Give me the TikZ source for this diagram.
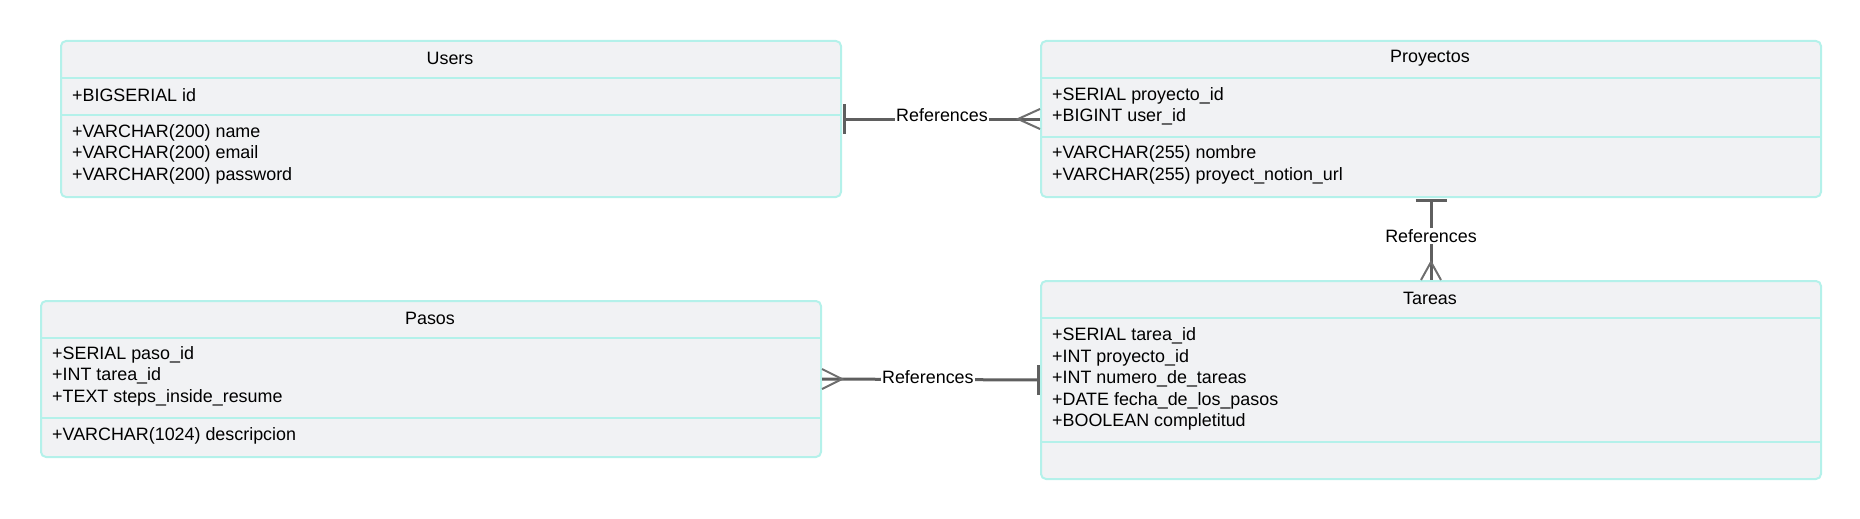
\documentclass[tikz,border=0pt]{standalone}
\usepackage{fontspec}
\setmainfont{Liberation Sans}
\definecolor{boxfill}{HTML}{F1F2F4}
\definecolor{boxline}{HTML}{B4F1EA}
\definecolor{conn}{HTML}{5F5F5F}
\definecolor{foot}{HTML}{6E6E6E}
\begin{document}
\begin{tikzpicture}[x=1pt,y=-1pt,
  entity/.style={draw=boxline,fill=boxfill,line width=2pt,rounded corners=5pt,
    minimum width=780pt,inner sep=0pt,anchor=north west},
  sepline/.style={draw=boxline,line width=2pt},
  title/.style={font=\fontsize{17.9}{21}\selectfont,inner sep=0pt},
  attr/.style={font=\fontsize{17.9}{21.5}\selectfont,inner sep=0pt,anchor=west,align=left},
  rel/.style={draw=conn,line width=3pt},
  crow/.style={draw=foot,line width=2pt},
  lbl/.style={fill=white,font=\fontsize{17.9}{21}\selectfont,inner sep=1pt}]
\useasboundingbox (0,0) rectangle (1860,519);

% Users
\node[entity,minimum height=156pt] (users) at (60,40) {};
\draw[sepline] (60,78) -- (840,78);
\draw[sepline] (60,115) -- (840,115);
\node[title] (usersT) at (450,58) {Users};
\node[attr] (usersA) at (72,95.5) {+BIGSERIAL id};
\node[attr] (usersB) at (72,154) {+VARCHAR(200) name\\+VARCHAR(200) email\\+VARCHAR(200) password};

% Proyectos
\node[entity,minimum height=156pt] (proy) at (1040,40) {};
\draw[sepline] (1040,78) -- (1820,78);
\draw[sepline] (1040,137) -- (1820,137);
\node[title] (proyT) at (1430,58) {Proyectos};
\node[attr] (proyA) at (1052,106.5) {+SERIAL proyecto\_id\\+BIGINT user\_id};
\node[attr] (proyB) at (1052,165) {+VARCHAR(255) nombre\\+VARCHAR(255) proyect\_notion\_url};

% Pasos
\node[entity,minimum height=156pt] (pasos) at (40,300) {};
\draw[sepline] (40,338) -- (820,338);
\draw[sepline] (40,418) -- (820,418);
\node[title] (pasosT) at (430,318) {Pasos};
\node[attr] (pasosA) at (52,376) {+SERIAL paso\_id\\+INT tarea\_id\\+TEXT steps\_inside\_resume};
\node[attr] (pasosB) at (52,436) {+VARCHAR(1024) descripcion};

% Tareas
\node[entity,minimum height=198pt] (tareas) at (1040,280) {};
\draw[sepline] (1040,318) -- (1820,318);
\draw[sepline] (1040,442) -- (1820,442);
\node[title] (tareasT) at (1430,298) {Tareas};
\node[attr] (tareasA) at (1052,379) {+SERIAL tarea\_id\\+INT proyecto\_id\\+INT numero\_de\_tareas\\+DATE fecha\_de\_los\_pasos\\+BOOLEAN completitud};

% Users -> Proyectos
\draw[rel] ([xshift=2pt]users.east) -- node[lbl,yshift=3.5pt] (l1) {References} (proy.west);
\draw[rel] ([xshift=2pt,yshift=15pt]users.east) -- ([xshift=2pt,yshift=-15pt]users.east);
\draw[crow] ([yshift=10pt]proy.west) -- ([xshift=-22pt]proy.west) -- ([yshift=-10pt]proy.west);

% Proyectos -> Tareas
\draw[rel] ([yshift=-2pt]proy.south) -- node[lbl,yshift=4pt] (l2) {References} (tareas.north);
\draw[rel] ([xshift=-15.5pt,yshift=-2pt]proy.south) -- ([xshift=15.5pt,yshift=-2pt]proy.south);
\draw[crow] ([xshift=-10pt]tareas.north) -- ([yshift=18pt]tareas.north) -- ([xshift=10pt]tareas.north);

% Pasos -> Tareas
\draw[rel] (pasos.east) -- node[lbl,pos=0.49,yshift=2.5pt] (l3) {References} ([xshift=-2pt]tareas.west);
\draw[rel] ([xshift=-2pt,yshift=15pt]tareas.west) -- ([xshift=-2pt,yshift=-15pt]tareas.west);
\draw[crow] ([yshift=10pt]pasos.east) -- ([xshift=20pt]pasos.east) -- ([yshift=-10pt]pasos.east);
\end{tikzpicture}
\end{document}
